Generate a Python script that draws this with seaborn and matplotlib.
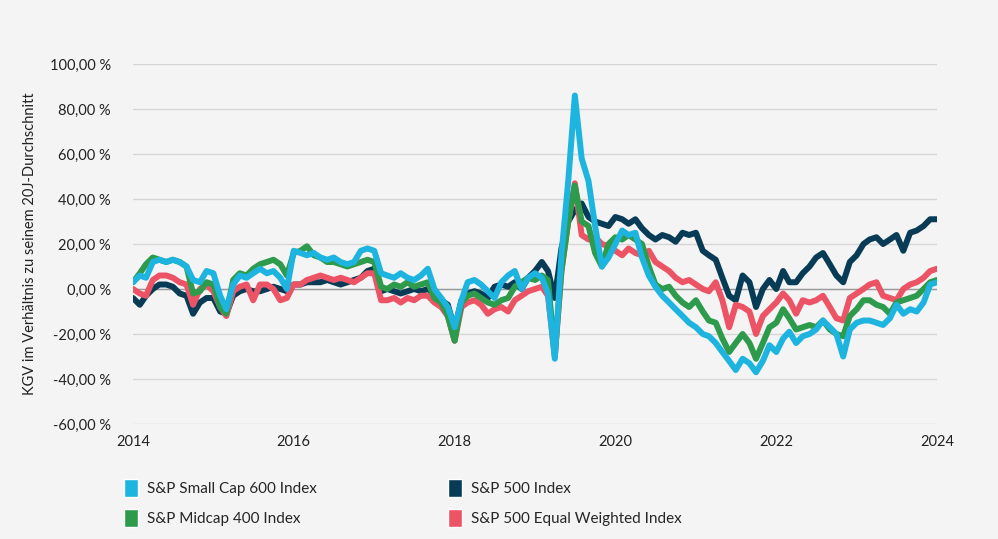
import pandas as pd
import numpy as np
import matplotlib
matplotlib.use("Agg")
import matplotlib.pyplot as plt
import matplotlib.dates as mdates
from matplotlib.patches import Patch
from matplotlib.ticker import FuncFormatter, FixedLocator
import seaborn as sns

# monthly readings, Jan 2014 .. Jan 2024
dates = pd.date_range("2014-01-01", periods=121, freq="MS")

small_cap = [3, 6, 5, 12, 13, 12, 13, 12, 10, 4, 3, 8, 7, -3, -9, 2, 6, 5, 7, 9,
             7, 8, 5, 0, 17, 16, 15, 16, 14, 13, 14, 12, 11, 12, 17, 18, 17, 7, 6, 5,
             7, 5, 4, 6, 9, 0, -4, -8, -17, -5, 3, 4, 2, -1, -4, 3, 6, 8, 0, 5,
             7, 5, -2, -31, 15, 48, 86, 58, 48, 28, 10, 14, 20, 26, 24, 25, 14, 6, 1, -3,
             -6, -9, -12, -15, -17, -20, -21, -24, -28, -32, -36, -31, -33, -37, -32, -25, -28, -22, -19, -24,
             -21, -20, -18, -14, -17, -20, -30, -18, -15, -14, -14, -15, -16, -13, -7, -11, -9, -10, -6, 2,
             3]

sp500 = [-4, -7, -3, 0, 2, 2, 1, -2, -3, -11, -6, -4, -4, -10, -11, -3, -1, 0, -1, -1,
         0, 1, 0, -1, 2, 2, 3, 3, 3, 4, 3, 2, 3, 4, 5, 8, 9, -1, 0, -1,
         -2, -1, 0, -1, 0, -2, -5, -7, -18, -5, -2, -1, -2, -4, 1, 2, 1, 3, 0, 5,
         8, 12, 8, -4, 18, 30, 35, 38, 32, 30, 29, 28, 32, 31, 29, 31, 27, 24, 22, 24,
         23, 21, 25, 24, 25, 17, 15, 13, 5, -3, -5, 6, 3, -8, 0, 4, 0, 8, 3, 3,
         7, 10, 14, 16, 11, 6, 3, 12, 15, 20, 22, 23, 20, 22, 24, 17, 25, 26, 28, 31,
         31]

midcap = [3, 7, 11, 14, 13, 12, 13, 12, 10, -2, -1, 3, 2, -8, -11, 4, 7, 6, 9, 11,
          12, 13, 11, 6, 16, 17, 19, 15, 14, 12, 12, 11, 10, 11, 12, 13, 12, 1, 0, 2,
          1, 3, 1, 2, 3, -4, -6, -12, -23, -6, -3, -2, -4, -6, -7, -5, -4, 1, 3, 5,
          4, 6, 4, -29, 8, 30, 46, 30, 28, 16, 10, 20, 23, 22, 24, 22, 20, 10, 2, 0,
          1, -3, -6, -8, -5, -10, -14, -15, -22, -28, -24, -20, -24, -31, -24, -17, -15, -9, -13, -18,
          -17, -16, -17, -14, -18, -20, -21, -12, -9, -5, -5, -7, -8, -11, -6, -5, -4, -3, 0, 3,
          4]

equal_weight = [0, -2, -3, 4, 6, 6, 5, 3, 2, -7, 0, 2, -1, -8, -12, -1, 1, 2, -5, 2,
                2, 0, -5, -4, 2, 2, 4, 5, 6, 5, 4, 5, 4, 3, 5, 7, 7, -5, -5, -4,
                -6, -4, -5, -3, -3, -6, -8, -12, -23, -8, -6, -5, -7, -11, -9, -8, -10, -5, -3, -1,
                0, 1, -3, -30, 8, 30, 47, 24, 22, 23, 20, 19, 17, 15, 18, 16, 15, 17, 12, 10,
                8, 5, 3, 4, 2, 0, -1, 3, -5, -17, -7, -8, -10, -20, -12, -9, -6, -2, -5, -11,
                -5, -6, -5, -3, -8, -13, -14, -4, -2, 0, 2, 3, -3, -4, -5, 0, 2, 3, 5, 8,
                9]

names = ["S&P Small Cap 600 Index", "S&P 500 Index",
         "S&P Midcap 400 Index", "S&P 500 Equal Weighted Index"]
colors = {"S&P Small Cap 600 Index": "#1db4df",
          "S&P 500 Index": "#083c56",
          "S&P Midcap 400 Index": "#2d9a4c",
          "S&P 500 Equal Weighted Index": "#ec5466"}

df = pd.concat([
    pd.DataFrame({"date": dates, "value": small_cap, "index": names[0]}),
    pd.DataFrame({"date": dates, "value": sp500, "index": names[1]}),
    pd.DataFrame({"date": dates, "value": midcap, "index": names[2]}),
    pd.DataFrame({"date": dates, "value": equal_weight, "index": names[3]}),
])

bg = "#f4f4f4"
sns.set_style("white")
plt.rcParams["font.family"] = ["Lato", "DejaVu Sans"]

fig = plt.figure(figsize=(9.98, 5.39), dpi=100, facecolor=bg)
ax = fig.add_axes([133 / 998, 1 - 424 / 539, (937 - 133) / 998, (424 - 64) / 539])
ax.set_facecolor(bg)

# draw order: navy, red, green, blue on top
draw_order = [names[1], names[3], names[2], names[0]]
sns.lineplot(data=df, x="date", y="value", hue="index", hue_order=draw_order,
             palette=colors, linewidth=4.3, legend=False, ax=ax, zorder=3)

ax.set_ylim(-60, 100)
ax.set_xlim(pd.Timestamp("2014-01-01"), pd.Timestamp("2024-01-01"))
ax.yaxis.set_major_locator(FixedLocator(np.arange(-60, 101, 20)))
ax.yaxis.set_major_formatter(FuncFormatter(lambda v, p: f"{v:.2f}".replace(".", ",") + " %"))
ax.xaxis.set_major_locator(mdates.YearLocator(2))
ax.xaxis.set_major_formatter(mdates.DateFormatter("%Y"))

ax.grid(axis="y", color="#d6d6d6", linewidth=1)
ax.grid(axis="x", visible=False)
ax.axhline(0, color="#9a9a9a", linewidth=1, zorder=2)
for s in ax.spines.values():
    s.set_visible(False)
ax.tick_params(axis="both", length=0, labelsize=10.5, labelcolor="#222222")
ax.tick_params(axis="y", pad=16)
ax.tick_params(axis="x", pad=8)

ax.set_xlabel("")
ax.set_ylabel("KGV im Verhältnis zu seinem 20J-Durchschnitt", fontsize=10.5, color="#222222", labelpad=9)

handles = [Patch(facecolor=colors[n], label=n) for n in [names[0], names[2], names[1], names[3]]]
fig.legend(handles=handles, loc="upper left", bbox_to_anchor=(110 / 998, 1 - 465 / 539),
           ncol=2, frameon=False, fontsize=11, handlelength=0.9, handleheight=1.5,
           columnspacing=8.6, labelspacing=0.75, handletextpad=0.6)

fig.savefig("out.png", dpi=100, facecolor=bg)
